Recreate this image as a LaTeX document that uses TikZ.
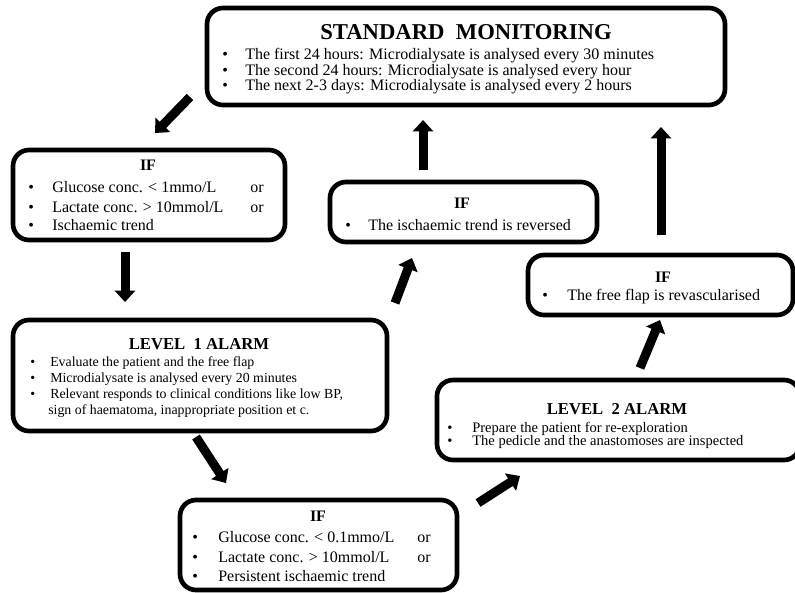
\documentclass[tikz,border=0pt]{standalone}
\usepackage{fontspec}
\setmainfont{Liberation Serif}
\usetikzlibrary{arrows.meta}
\newdimen\px \px=0.75pt
\newcommand{\itm}[2][23]{\makebox[#1\px][l]{\textbullet}#2}

\begin{document}
\begin{tikzpicture}[x=0.75pt, y=-0.75pt,
        box/.style={draw, line width=3.5pt, rounded corners=12pt, inner sep=0pt},
        bigtitle/.style={anchor=base, inner sep=0pt, font=\bfseries\fontsize{17}{19}\selectfont},
        title/.style={anchor=base, inner sep=0pt, font=\bfseries\fontsize{12.5}{14}\selectfont},
        iftitle/.style={anchor=base, inner sep=0pt, font=\bfseries\fontsize{12}{14}\selectfont},
        bodyL/.style={anchor=base west, inner sep=0pt, font=\fontsize{12}{14}\selectfont},
        bodyM/.style={anchor=base west, inner sep=0pt, font=\fontsize{12}{14}\selectfont},
        bodyS/.style={anchor=base west, inner sep=0pt, font=\fontsize{10.4}{12}\selectfont},
        blockarr/.style={-{Triangle[width=15pt,length=8.5pt]}, line width=6.75pt}
    ]
        \useasboundingbox (0,0) rectangle (795,592);

        % Standard monitoring
        \node[box, minimum width=388.5pt, minimum height=72.75pt] (std) at (466,56.5) {};
        \node[bigtitle] (stdT) at (466,40) {STANDARD~ MONITORING};
        \node[bodyM] (std1) at (222,60) {\itm{The first 24 hours: Microdialysate is analysed every 30 minutes}};
        \node[bodyM] (std2) at (222,75) {\itm{The second 24 hours: Microdialysate is analysed every hour}};
        \node[bodyM] (std3) at (222,90) {\itm{The next 2-3 days: Microdialysate is analysed every 2 hours}};

        % IF -> level 1
        \node[box, minimum width=204pt, minimum height=67.5pt] (if1) at (149,195) {};
        \node[iftitle] (if1T) at (148,170) {IF};
        \node[bodyL] (if1a) at (28,192) {\itm[24]{Glucose conc. < 1mmo/L}};
        \node[bodyL] (if1b) at (28,212) {\itm[24]{Lactate conc. > 10mmol/L}};
        \node[bodyL] (if1c) at (28,230) {\itm[24]{Ischaemic trend}};
        \node[bodyL] (if1or1) at (250,192) {or};
        \node[bodyL] (if1or2) at (250,212) {or};

        % Level 1 alarm
        \node[box, minimum width=280.5pt, minimum height=83.25pt] (lvl1) at (200,375.5) {};
        \node[title] (lvl1T) at (199,349) {LEVEL~ 1 ALARM};
        \node[bodyS] (lvl1a) at (30,366) {\itm[20]{Evaluate the patient and the free flap}};
        \node[bodyS] (lvl1b) at (30,382) {\itm[20]{Microdialysate is analysed every 20 minutes}};
        \node[bodyS] (lvl1c) at (30,398) {\itm[20]{Relevant responds to clinical conditions like low BP,}};
        \node[bodyS] (lvl1d) at (48,414) {sign of haematoma, inappropriate position et c.};

        % IF -> level 2
        \node[box, minimum width=207.75pt, minimum height=67.5pt] (if3) at (318.5,545) {};
        \node[iftitle] (if3T) at (318,521) {IF};
        \node[bodyL] (if3a) at (192,542) {\itm[26]{Glucose conc. < 0.1mmo/L}};
        \node[bodyL] (if3b) at (192,562) {\itm[26]{Lactate conc. > 10mmol/L}};
        \node[bodyL] (if3c) at (192,581) {\itm[26]{Persistent ischaemic trend}};
        \node[bodyL] (if3or1) at (417,542) {or};
        \node[bodyL] (if3or2) at (417,562) {or};

        % Level 2 alarm
        \node[box, minimum width=272.25pt, minimum height=60pt] (lvl2) at (618.5,420) {};
        \node[title] (lvl2T) at (617,414) {LEVEL~ 2 ALARM};
        \node[bodyS, font=\fontsize{10.9}{12}\selectfont] (lvl2a) at (447,432) {\itm[25]{Prepare the patient for re-exploration}};
        \node[bodyS, font=\fontsize{10.9}{12}\selectfont] (lvl2b) at (447,445) {\itm[25]{The pedicle and the anastomoses are inspected}};

        % IF -> back to standard
        \node[box, minimum width=200.25pt, minimum height=45pt] (ifrev) at (463.5,212) {};
        \node[iftitle] (ifrevT) at (462,208) {IF};
        \node[bodyM] (ifrev1) at (345,230) {\itm{The ischaemic trend is reversed}};

        \node[box, minimum width=198.75pt, minimum height=45pt] (ifflap) at (660.5,285) {};
        \node[iftitle] (ifflapT) at (663,282) {IF};
        \node[bodyM] (ifflap1) at (542,300) {\itm[25]{The free flap is revascularised}};

        % arrow ends
        \coordinate (a1s) at (190,97);  \coordinate (a1e) at (155,133);
        \coordinate (a2s) at (125,252); \coordinate (a2e) at (125,302);
        \coordinate (a3s) at (196,437); \coordinate (a3e) at (226,483);
        \coordinate (a4s) at (478,503); \coordinate (a4e) at (520,476);
        \coordinate (a5s) at (640,368); \coordinate (a5e) at (660,320);
        \coordinate (a6s) at (661,235); \coordinate (a6e) at (661,127);
        \coordinate (a7s) at (395,303); \coordinate (a7e) at (412,258);
        \coordinate (a8s) at (423,170); \coordinate (a8e) at (423,120);

        \draw[blockarr] (a1s) -- (a1e);
        \draw[blockarr] (a2s) -- (a2e);
        \draw[blockarr] (a3s) -- (a3e);
        \draw[blockarr] (a4s) -- (a4e);
        \draw[blockarr] (a5s) -- (a5e);
        \draw[blockarr] (a6s) -- (a6e);
        \draw[blockarr] (a7s) -- (a7e);
        \draw[blockarr] (a8s) -- (a8e);
    \end{tikzpicture}
\end{document}
